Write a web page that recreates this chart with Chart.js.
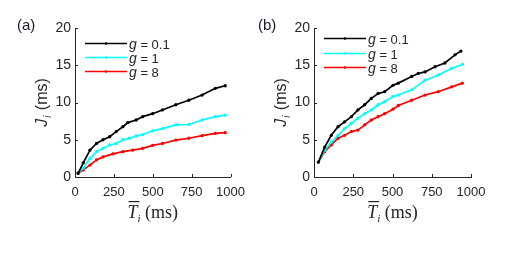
<!DOCTYPE html>
<html>
<head>
<meta charset="utf-8">
<script src="https://cdn.jsdelivr.net/npm/chart.js@4/dist/chart.umd.min.js"></script>
<style>
  body { margin: 0; background: #fff; width: 507px; height: 253px; overflow: hidden; }
  .panel { position: absolute; top: 0; height: 253px; }
  #pa { left: 0; width: 253px; }
  #pb { left: 253px; width: 254px; }
</style>
</head>
<body>
<div class="panel" id="pa"><canvas id="chartA"></canvas></div>
<div class="panel" id="pb"><canvas id="chartB"></canvas></div>
<script>
// legend / series names
const gValues = ["0.1", "1", "8"];
const xTicks = [0, 250, 500, 750, 1000];
const yTicks = [0, 5, 10, 15, 20];

// panel (a): mean interval T (ms) vs jitter J (ms)
const aBlackX = [20, 53, 96, 138, 180, 223, 265, 308, 340, 393, 435, 499, 562, 648, 732, 817, 902, 966];
const aBlackY = [0.5, 1.9, 3.6, 4.5, 5.0, 5.4, 6.1, 6.75, 7.3, 7.65, 8.1, 8.5, 9.0, 9.7, 10.3, 11.0, 11.9, 12.25];
const aCyanX = [20, 53, 96, 138, 180, 223, 265, 308, 350, 393, 435, 499, 562, 648, 732, 817, 902, 966];
const aCyanY = [0.5, 1.2, 2.5, 3.4, 3.85, 4.3, 4.5, 5.0, 5.2, 5.5, 5.7, 6.2, 6.5, 7.0, 7.05, 7.65, 8.1, 8.3];
const aRedX = [20, 53, 96, 138, 180, 244, 308, 371, 435, 499, 562, 648, 732, 817, 902, 966];
const aRedY = [0.5, 0.95, 1.6, 2.3, 2.7, 3.1, 3.4, 3.6, 3.85, 4.25, 4.5, 4.95, 5.2, 5.55, 5.85, 5.95];

// panel (b)
const bBlackX = [28, 68, 110, 153, 195, 238, 280, 323, 365, 408, 450, 503, 537, 622, 664, 707, 771, 834, 898, 936];
const bBlackY = [2.0, 4.0, 5.6, 6.75, 7.4, 8.1, 9.0, 9.7, 10.55, 11.2, 11.45, 12.3, 12.6, 13.5, 13.9, 14.1, 14.8, 15.3, 16.4, 16.9];
const bCyanX = [28, 68, 110, 153, 195, 238, 280, 323, 365, 408, 450, 503, 537, 622, 707, 792, 877, 945];
const bCyanY = [2.0, 3.6, 4.7, 5.6, 6.5, 7.2, 7.9, 8.5, 9.0, 9.7, 10.1, 10.8, 11.0, 11.7, 13.0, 13.7, 14.6, 15.1];
const bRedX = [28, 68, 110, 153, 195, 238, 280, 323, 365, 408, 450, 503, 537, 622, 707, 792, 877, 945];
const bRedY = [2.0, 3.4, 4.3, 5.2, 5.6, 6.1, 6.3, 7.0, 7.65, 8.1, 8.5, 9.1, 9.6, 10.3, 11.0, 11.45, 12.1, 12.6];

const colors = ["#000000", "#00ffff", "#ff0000"];
const textColor = "#262626";

function pts(xs, ys) {
  return xs.map((x, i) => ({ x: x, y: ys[i] }));
}

function mkDatasets(series) {
  return series.map((s, k) => ({
    label: "g = " + gValues[k],
    data: pts(s[0], s[1]),
    borderColor: colors[k],
    backgroundColor: colors[k],
    borderWidth: 1.7,
    pointRadius: 0.8,
    pointHoverRadius: 0.8,
    tension: 0,
  }));
}

// draws inward ticks, axis titles, legend and panel letter
const decor = {
  id: "decor",
  afterDraw(chart, args, opts) {
    const ctx = chart.ctx;
    const a = chart.chartArea;
    const xs = chart.scales.x, ys = chart.scales.y;
    ctx.save();
    ctx.strokeStyle = textColor;
    ctx.lineWidth = 1;
    xTicks.forEach(v => {
      const px = Math.round(xs.getPixelForValue(v)) + 0.5;
      ctx.beginPath(); ctx.moveTo(px, a.bottom); ctx.lineTo(px, a.bottom - 3); ctx.stroke();
    });
    yTicks.forEach(v => {
      const py = Math.round(ys.getPixelForValue(v)) + 0.5;
      ctx.beginPath(); ctx.moveTo(a.left, py); ctx.lineTo(a.left + 3, py); ctx.stroke();
    });

    ctx.fillStyle = textColor;
    ctx.textBaseline = "alphabetic";

    // y title: J_i (ms)
    ctx.save();
    ctx.translate(a.left - 28, (a.top + a.bottom) / 2);
    ctx.rotate(-Math.PI / 2);
    ctx.font = "italic 16px 'Liberation Sans'";
    const wJ = ctx.measureText("J").width;
    ctx.font = "italic 10px 'Liberation Sans'";
    const wi = ctx.measureText("i").width;
    ctx.font = "16px 'Liberation Sans'";
    const wm = ctx.measureText(" (ms)").width;
    let sx = -(wJ + wi + 2 + wm) / 2;
    ctx.font = "italic 16px 'Liberation Sans'";
    ctx.fillText("J", sx, 0);
    ctx.font = "italic 10px 'Liberation Sans'";
    ctx.fillText("i", sx + wJ + 1, 4);
    ctx.font = "16px 'Liberation Sans'";
    ctx.fillText(" (ms)", sx + wJ + wi + 2, 0);
    ctx.restore();

    // x title: T-bar_i (ms)
    const cx = (a.left + a.right) / 2;
    const by = a.bottom + 41;
    ctx.font = "italic 18px 'Liberation Serif'";
    const wT = ctx.measureText("T").width;
    ctx.font = "italic 11px 'Liberation Serif'";
    const wI = ctx.measureText("i").width;
    ctx.font = "18px 'Liberation Serif'";
    const wM = ctx.measureText(" (ms)").width;
    let tx = cx - (wT + wI + wM) / 2;
    ctx.font = "italic 18px 'Liberation Serif'";
    ctx.fillText("T", tx, by);
    ctx.fillRect(tx + 1, by - 17, wT + 1, 1.2);
    ctx.font = "italic 11px 'Liberation Serif'";
    ctx.fillText("i", tx + wT, by + 4);
    ctx.font = "18px 'Liberation Serif'";
    ctx.fillText(" (ms)", tx + wT + wI, by);

    // legend
    for (let k = 0; k < 3; k++) {
      const ly = Math.round(a.top + opts.legendTop + k * 14.2) + 0.5;
      const x0 = a.left + 10, x1 = a.left + 52;
      ctx.strokeStyle = colors[k];
      ctx.lineWidth = 1.7;
      ctx.beginPath(); ctx.moveTo(x0, ly); ctx.lineTo(x1, ly); ctx.stroke();
      ctx.fillStyle = colors[k];
      ctx.beginPath(); ctx.arc((x0 + x1) / 2, ly, 1.2, 0, 2 * Math.PI); ctx.fill();
      ctx.fillStyle = textColor;
      ctx.font = "italic 14px 'Liberation Sans'";
      const wg = ctx.measureText("g").width;
      ctx.fillText("g", x1 + 2, ly + 5);
      ctx.font = "13px 'Liberation Sans'";
      ctx.fillText(" = " + gValues[k], x1 + 2 + wg, ly + 5);
    }

    // panel letter
    ctx.font = "15px 'Liberation Sans'";
    ctx.fillStyle = "#1a1a2e";
    ctx.fillText(opts.letter, opts.letterX, 30);
    ctx.restore();
  }
};

function mkChart(id, series, yWidth, padRight, letter, letterX, legendTop) {
  return new Chart(document.getElementById(id), {
    type: "line",
    data: { datasets: mkDatasets(series) },
    options: {
      responsive: true,
      maintainAspectRatio: false,
      animation: false,
      layout: { padding: { top: 28, right: padRight, bottom: 0, left: 0 } },
      scales: {
        x: {
          type: "linear",
          min: 0, max: 1000,
          afterBuildTicks: s => { s.ticks = xTicks.map(v => ({ value: v })); },
          afterFit: s => { s.height = 76; },
          grid: { display: false, drawTicks: false },
          border: { display: true, color: textColor, width: 1 },
          ticks: { color: textColor, padding: 8, font: { family: "Liberation Sans", size: 13 },
                   callback: v => String(v) },
        },
        y: {
          type: "linear",
          min: 0, max: 20,
          afterBuildTicks: s => { s.ticks = yTicks.map(v => ({ value: v })); },
          afterFit: s => { s.width = yWidth; },
          grid: { display: false, drawTicks: false },
          border: { display: true, color: textColor, width: 1 },
          ticks: { color: textColor, padding: 4, font: { family: "Liberation Sans", size: 14 },
                   callback: v => String(v) },
        },
      },
      plugins: {
        legend: { display: false },
        tooltip: { enabled: false },
        decor: { letter: letter, letterX: letterX, legendTop: legendTop },
      },
    },
    plugins: [decor],
  });
}

mkChart("chartA", [[aBlackX, aBlackY], [aCyanX, aCyanY], [aRedX, aRedY]], 75, 21, "(a)", 17, 14.7);
mkChart("chartB", [[bBlackX, bBlackY], [bCyanX, bCyanY], [bRedX, bRedY]], 61, 36, "(b)", 5, 10.3);
</script>
</body>
</html>
